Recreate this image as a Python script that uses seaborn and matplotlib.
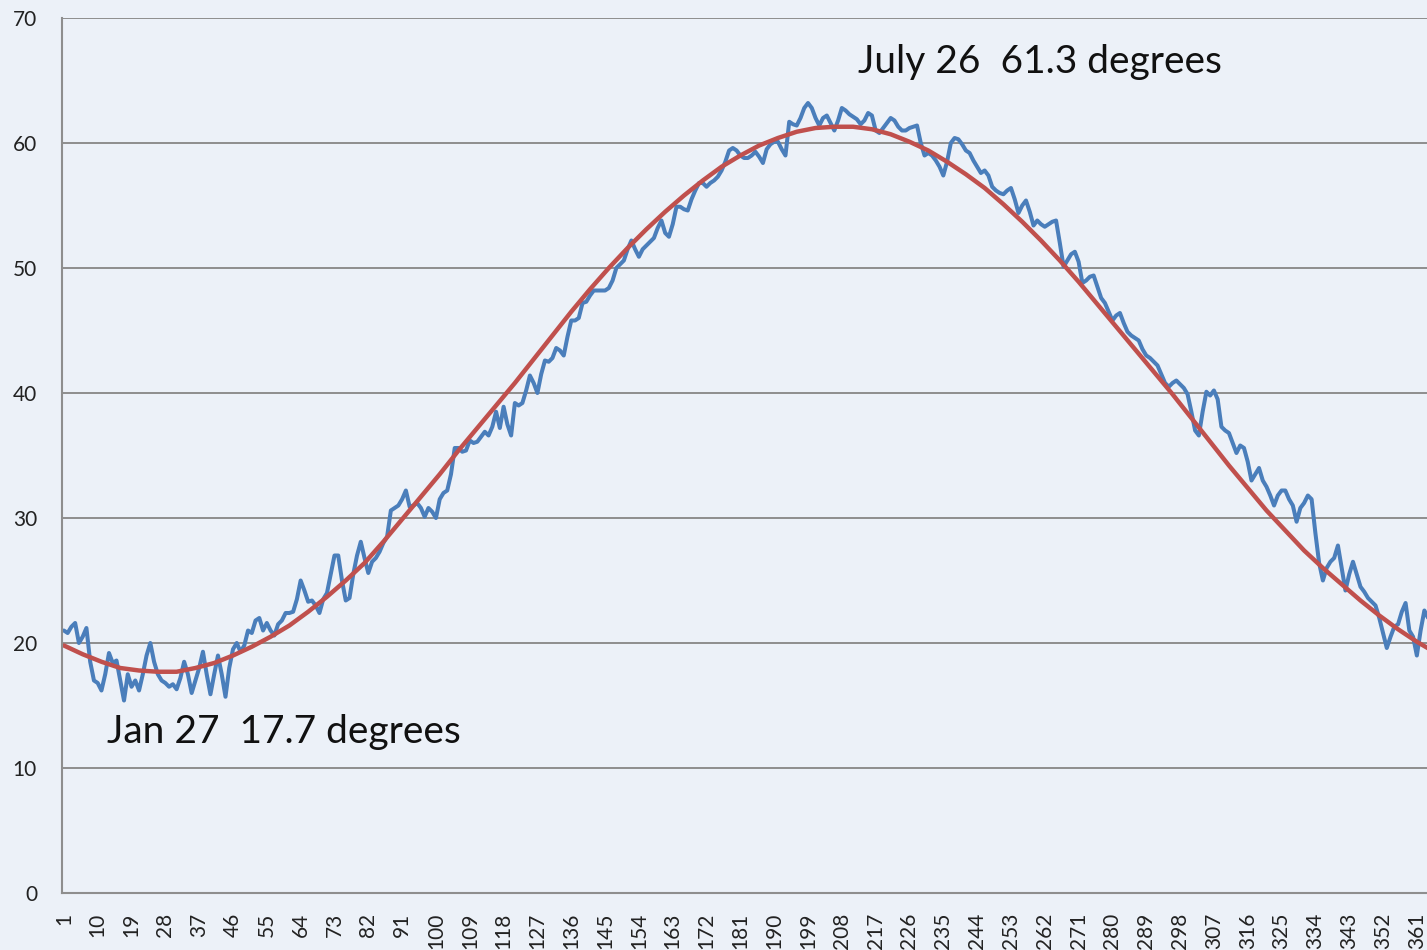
import numpy as np
import pandas as pd
import matplotlib.pyplot as plt
from matplotlib.ticker import FixedLocator
import seaborn as sns

# daily values (blue) and the fitted curve (red, every 5 days)
days = list(range(1, 366))
daily_temp = [
    21.0, 20.8, 21.3, 21.6, 20.0, 20.5, 21.2, 18.5, 17.0, 16.8,
    16.2, 17.5, 19.2, 18.4, 18.6, 17.0, 15.4, 17.5, 16.5, 17.0,
    16.2, 17.5, 19.0, 20.0, 18.5, 17.5, 17.0, 16.8, 16.5, 16.7,
    16.3, 17.2, 18.5, 17.5, 16.0, 17.0, 18.0, 19.3, 17.5, 15.9,
    17.5, 19.0, 17.5, 15.7, 18.0, 19.5, 20.0, 19.3, 19.8, 21.0,
    20.8, 21.8, 22.0, 21.0, 21.6, 21.0, 20.6, 21.5, 21.8, 22.4,
    22.4, 22.5, 23.5, 25.0, 24.2, 23.3, 23.4, 23.0, 22.4, 23.5,
    24.0, 25.5, 27.0, 27.0, 25.0, 23.4, 23.6, 25.5, 27.0, 28.1,
    26.8, 25.6, 26.5, 26.8, 27.3, 28.0, 28.5, 30.6, 30.8, 31.0,
    31.5, 32.2, 30.9, 31.0, 31.2, 30.8, 30.1, 30.8, 30.5, 30.0,
    31.5, 32.0, 32.2, 33.5, 35.6, 35.6, 35.3, 35.4, 36.2, 36.0,
    36.1, 36.5, 36.9, 36.6, 37.3, 38.5, 37.2, 38.9, 37.5, 36.6,
    39.2, 39.0, 39.2, 40.2, 41.4, 40.8, 40.0, 41.5, 42.6, 42.5,
    42.8, 43.6, 43.4, 43.0, 44.5, 45.8, 45.8, 46.0, 47.2, 47.3,
    47.8, 48.2, 48.2, 48.2, 48.2, 48.4, 49.0, 50.0, 50.3, 50.6,
    51.5, 52.2, 51.5, 50.9, 51.5, 51.8, 52.1, 52.4, 53.2, 53.8,
    52.8, 52.5, 53.5, 54.9, 54.9, 54.7, 54.6, 55.5, 56.2, 56.8,
    56.8, 56.5, 56.8, 57.0, 57.3, 57.8, 58.5, 59.4, 59.6, 59.4,
    59.0, 58.8, 58.8, 59.0, 59.3, 58.9, 58.4, 59.5, 59.9, 60.1,
    60.1, 59.5, 59.0, 61.7, 61.5, 61.4, 62.0, 62.8, 63.2, 62.8,
    62.0, 61.4, 62.0, 62.2, 61.6, 61.0, 61.8, 62.8, 62.6, 62.3,
    62.1, 61.9, 61.5, 61.8, 62.4, 62.2, 61.0, 60.8, 61.2, 61.6,
    62.0, 61.8, 61.3, 61.0, 61.0, 61.2, 61.3, 61.4, 60.0, 59.0,
    59.2, 59.0, 58.6, 58.1, 57.4, 58.5, 60.0, 60.4, 60.3, 59.9,
    59.4, 59.2, 58.6, 58.1, 57.6, 57.8, 57.4, 56.5, 56.2, 56.0,
    55.9, 56.2, 56.4, 55.5, 54.4, 55.0, 55.4, 54.5, 53.4, 53.8,
    53.5, 53.3, 53.5, 53.7, 53.8, 52.0, 50.1, 50.6, 51.1, 51.3,
    50.5, 48.8, 49.0, 49.3, 49.4, 48.5, 47.6, 47.2, 46.5, 45.8,
    46.2, 46.4, 45.6, 44.9, 44.6, 44.4, 44.2, 43.5, 43.0, 42.8,
    42.5, 42.2, 41.5, 40.8, 40.5, 40.8, 41.0, 40.7, 40.4, 39.9,
    38.5, 37.0, 36.6, 38.5, 40.1, 39.8, 40.2, 39.5, 37.3, 37.0,
    36.8, 36.0, 35.2, 35.8, 35.6, 34.5, 33.0, 33.5, 34.0, 33.0,
    32.5, 31.8, 31.0, 31.8, 32.2, 32.2, 31.5, 31.0, 29.7, 30.8,
    31.2, 31.8, 31.5, 28.8, 26.4, 25.0, 26.0, 26.5, 26.8, 27.8,
    26.0, 24.2, 25.5, 26.5, 25.5, 24.5, 24.1, 23.6, 23.3, 23.0,
    22.0, 20.8, 19.6, 20.5, 21.3, 21.5, 22.5, 23.2, 21.0, 20.5,
    19.0, 21.0, 22.6, 22.0, 21.5,
]

fit_days = list(range(1, 362, 5)) + [365]
fit_temp = [
    19.8, 19.1, 18.5, 18.0, 17.8, 17.7, 17.7, 18.0, 18.4, 19.0,
    19.7, 20.5, 21.4, 22.5, 23.7, 25.0, 26.4, 28.1, 29.9, 31.7,
    33.5, 35.4, 37.2, 39.0, 40.8, 42.7, 44.6, 46.5, 48.3, 50.0,
    51.6, 53.1, 54.5, 55.8, 57.0, 58.1, 59.0, 59.8, 60.4, 60.9,
    61.2, 61.3, 61.3, 61.1, 60.7, 60.1, 59.4, 58.5, 57.5, 56.4,
    55.1, 53.7, 52.2, 50.6, 48.9, 47.1, 45.3, 43.5, 41.7, 39.9,
    38.0, 36.1, 34.2, 32.4, 30.6, 29.0, 27.4, 26.0, 24.7, 23.4,
    22.2, 21.1, 20.1, 19.4,
]

x_labels = list(range(1, 362, 9))
y_ticks = [0, 10, 20, 30, 40, 50, 60, 70]

bg = '#ECF1F8'
grey = '#8E8E8E'

sns.set_style('white')
plt.rcParams['font.family'] = ['Lato', 'DejaVu Sans']

df_daily = pd.DataFrame({'day': days, 'temp': daily_temp})
df_fit = pd.DataFrame({'day': fit_days, 'temp': fit_temp})

fig = plt.figure(figsize=(14.27, 9.5), dpi=100, facecolor=bg)
ax = fig.add_axes([62 / 1427, 1 - 893 / 950, 1 - 62 / 1427, (893 - 18) / 950])
ax.set_facecolor(bg)

sns.lineplot(data=df_daily, x='day', y='temp', color='#4A7EBB', lw=2.9, ax=ax)
sns.lineplot(data=df_fit, x='day', y='temp', color='#C0504D', lw=3.2, ax=ax)

ax.set_xlim(0.5, 363.7)
ax.set_ylim(0, 70)
ax.set_xlabel('')
ax.set_ylabel('')

ax.set_yticks(y_ticks)
ax.set_yticklabels([str(v) for v in y_ticks])
ax.yaxis.grid(True, color=grey, lw=1.4)
ax.set_axisbelow(True)
ax.tick_params(axis='y', length=7, width=1.4, color=grey, pad=11,
               labelsize=15, labelcolor='#222222')

ax.set_xticks(x_labels)
ax.set_xticklabels([str(v) for v in x_labels], rotation=90)
ax.xaxis.set_minor_locator(FixedLocator(np.arange(0.5, 364, 1)))
ax.tick_params(axis='x', which='major', length=0, pad=14,
               labelsize=15, labelcolor='#222222')
ax.tick_params(axis='x', which='minor', length=7.5, width=1, color=grey)

for side in ['top', 'right']:
    ax.spines[side].set_visible(False)
for side in ['left', 'bottom']:
    ax.spines[side].set_color(grey)
    ax.spines[side].set_linewidth(1.5)

ax.text(212.3, 66.5, 'July 26  61.3 degrees', fontsize=28, va='center', ha='left', color='#111111')
ax.text(12.5, 12.9, 'Jan 27  17.7 degrees', fontsize=28, va='center', ha='left', color='#111111')

fig.savefig('out.png', dpi=100, facecolor=bg)
